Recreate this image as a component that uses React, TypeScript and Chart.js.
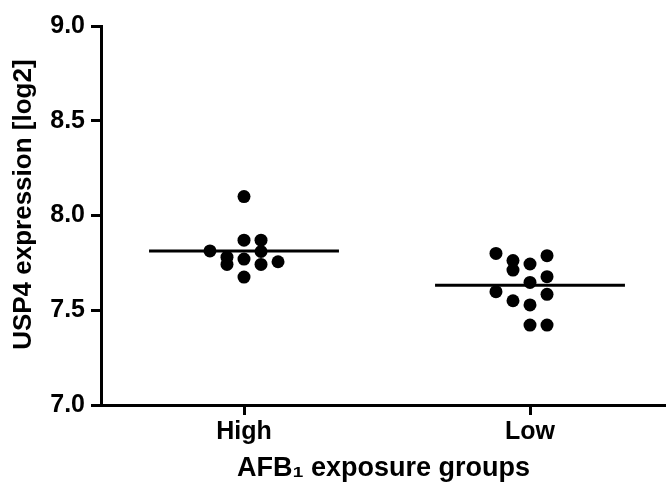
import React, { useEffect, useRef } from "react";
import { Chart, registerables } from "chart.js";

Chart.register(...registerables);

// ---- data ----
const categories = ["High", "Low"];
const yTickValues = [7.0, 7.5, 8.0, 8.5, 9.0];

const highValues = [8.1, 7.87, 7.87, 7.813, 7.81, 7.78, 7.742, 7.77, 7.742, 7.756, 7.675];
const highSlots = [0, 0, 1, -2, 1, -1, -1, 0, 1, 2, 0];

const lowValues = [7.8, 7.762, 7.712, 7.744, 7.788, 7.677, 7.647, 7.598, 7.584, 7.55, 7.528, 7.422, 7.422];
const lowSlots = [-2, -1, -1, 0, 1, 1, 0, -2, 1, -1, 0, 0, 1];

const medians = [7.813, 7.632];

// ---- style / layout constants ----
const FONT = "'Liberation Sans', Arial, Helvetica, sans-serif";
const JITTER = 0.119;
const HALF_LINE = 0.664;
const catX = (i: number) => 1 + 2 * i;

export default function App() {
  const ref = useRef<HTMLCanvasElement | null>(null);

  useEffect(() => {
    if (!ref.current) return;
    const groups = [
      { values: highValues, slots: highSlots },
      { values: lowValues, slots: lowSlots },
    ];
    const pointData = groups.flatMap((g, i) =>
      g.values.map((v, k) => ({ x: catX(i) + g.slots[k] * JITTER, y: v }))
    );
    const lineSets = medians.map((m, i) => ({
      type: "line" as const,
      data: [
        { x: catX(i) - HALF_LINE, y: m },
        { x: catX(i) + HALF_LINE, y: m },
      ],
      borderColor: "#000",
      borderWidth: 3,
      pointRadius: 0,
      showLine: true,
      fill: false,
    }));

    const chart = new Chart(ref.current, {
      type: "scatter",
      data: {
        datasets: [
          {
            data: pointData,
            backgroundColor: "#000",
            borderWidth: 0,
            pointRadius: 6.5,
            pointHoverRadius: 6.5,
          },
          ...lineSets,
        ] as any,
      },
      options: {
        animation: false,
        responsive: true,
        maintainAspectRatio: false,
        layout: { autoPadding: false, padding: { top: 26, right: 0, left: 0, bottom: 0 } },
        plugins: { legend: { display: false }, tooltip: { enabled: false } },
        scales: {
          x: {
            type: "linear",
            min: 0,
            max: 3.951,
            afterBuildTicks: (scale: any) => {
              scale.ticks = categories.map((_, i) => ({ value: catX(i) }));
            },
            afterFit: (scale: any) => {
              scale.height = 80;
              scale.paddingLeft = 0;
              scale.paddingRight = 0;
            },
            ticks: {
              color: "#000",
              font: { family: FONT, size: 25, weight: "bold" },
              padding: 2,
              maxRotation: 0,
              callback: (v: any) => categories[(Number(v) - 1) / 2] ?? "",
            },
            grid: {
              display: true,
              drawOnChartArea: false,
              drawTicks: true,
              tickLength: 10,
              lineWidth: 3,
              color: "#000",
            },
            border: { display: true, color: "#000", width: 3 },
            title: {
              display: true,
              text: "AFB\u2081 exposure groups",
              color: "#000",
              font: { family: FONT, size: 27, weight: "bold" },
              padding: { top: 0, bottom: 0 },
            },
          },
          y: {
            type: "linear",
            min: 7,
            max: 9,
            afterBuildTicks: (scale: any) => {
              scale.ticks = yTickValues.map((v) => ({ value: v }));
            },
            afterFit: (scale: any) => {
              scale.width = 101;
            },
            ticks: {
              color: "#000",
              font: { family: FONT, size: 25, weight: "bold" },
              padding: 6,
              callback: (v: any) => Number(v).toFixed(1),
            },
            grid: {
              display: true,
              drawOnChartArea: false,
              drawTicks: true,
              tickLength: 10,
              lineWidth: 3,
              color: "#000",
            },
            border: { display: true, color: "#000", width: 3 },
            title: {
              display: true,
              text: "   USP4 expression [log2]",
              color: "#000",
              font: { family: FONT, size: 26, weight: "bold" },
              padding: { top: 8, bottom: 0 },
            },
          },
        },
      },
    });
    return () => chart.destroy();
  }, []);

  return (
    <div style={{ position: "absolute", left: 0, top: 0, width: 666, height: 485, background: "#fff" }}>
      <canvas ref={ref} />
    </div>
  );
}
